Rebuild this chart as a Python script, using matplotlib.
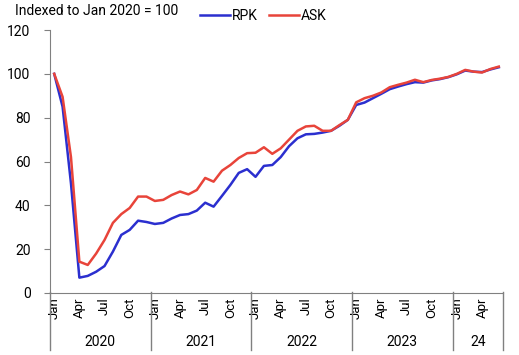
import numpy as np
import matplotlib
matplotlib.use("Agg")
import matplotlib.pyplot as plt
import matplotlib.transforms as mtransforms

plt.rcParams["font.family"] = ["Roboto", "DejaVu Sans"]

# monthly index, Jan 2020 .. Jun 2024 (Jan 2020 = 100)
rpk = [100, 85, 50, 7, 7.8, 9.7, 12.3, 18.9, 26.5, 28.8, 33, 32.4,
       31.5, 32, 34, 35.6, 36, 37.6, 41.2, 39.4, 44.3, 49.3, 54.8, 56.5,
       53, 58, 58.4, 62, 67, 70.6, 72.4, 72.6, 73.2, 74, 76.3, 79,
       85.8, 86.9, 88.9, 90.9, 93, 94.2, 95.3, 96.2, 96, 97, 97.6, 98.5,
       99.8, 101.5, 101, 100.8, 102, 103]
ask = [100, 89.5, 62, 14.3, 12.8, 18, 24.2, 32, 36, 38.8, 44, 44,
       42, 42.5, 44.7, 46.3, 45, 47, 52.5, 50.8, 55.8, 58.4, 61.6, 63.8,
       64, 66.5, 63.5, 66, 70, 74, 76, 76.3, 74, 74, 76.6, 79,
       87, 88.9, 90, 91.5, 93.9, 95, 96, 97.3, 96.2, 97.2, 97.8, 98.6,
       100, 101.8, 101, 100.6, 102.2, 103.3]
month_ticks = [0, 3, 6, 9]
month_names = ["Jan", "Apr", "Jul", "Oct"]
years = ["2020", "2021", "2022", "2023", "24"]
year_len = [12, 12, 12, 12, 6]

fig = plt.figure(figsize=(5.19, 3.55), dpi=100)
ax = fig.add_axes([50 / 519, 1 - 293 / 355, 453 / 519, 263 / 355])

x = np.arange(len(rpk))
ax.plot(x, rpk, color="#2b2fcf", lw=1.8, label="RPK")
ax.plot(x, ask, color="#e8443a", lw=1.8, label="ASK")

ax.set_xlim(-0.5, len(rpk) - 0.5)
ax.set_ylim(0, 120)
ax.set_yticks(range(0, 121, 20))
ax.tick_params(axis="y", labelsize=10, length=4, color="#808080", pad=10)

for s in ["top", "right"]:
    ax.spines[s].set_visible(False)
for s in ["left", "bottom"]:
    ax.spines[s].set_color("#808080")

# two-level category axis: months then years
ticks, labels = [], []
start = 0
for n in year_len:
    for m, name in zip(month_ticks, month_names):
        if m < n:
            ticks.append(start + m)
            labels.append(name)
    start += n
ax.set_xticks(ticks)
ax.set_xticklabels(labels, rotation=90, fontsize=9.5)
ax.tick_params(axis="x", length=0, pad=3)

trans = mtransforms.blended_transform_factory(ax.transData, ax.transAxes)
start = 0
bounds = [-0.5]
for y, n in zip(years, year_len):
    ax.text(start + n / 2 - 0.5, -0.186, y, transform=trans, ha="center",
            va="center", fontsize=10)
    start += n
    bounds.append(start - 0.5)
for b in bounds:
    ax.plot([b, b], [0.005, -0.217], transform=trans, color="#808080",
            lw=1, clip_on=False)

fig.text(15 / 519, 1 - 11 / 355, "Indexed to Jan 2020 = 100", fontsize=10,
         va="center", ha="left")
fig.text(15 / 519, 1 - 30 / 355, "120", fontsize=10, va="center", ha="left",
         alpha=0)
ax.legend(loc="center", bbox_to_anchor=(263 / 519, 1 - 16 / 355),
          bbox_transform=fig.transFigure, ncol=2, frameon=False, fontsize=10,
          handlelength=2.2, handletextpad=0.1, columnspacing=0.8)

fig.savefig("out.png", dpi=100)
